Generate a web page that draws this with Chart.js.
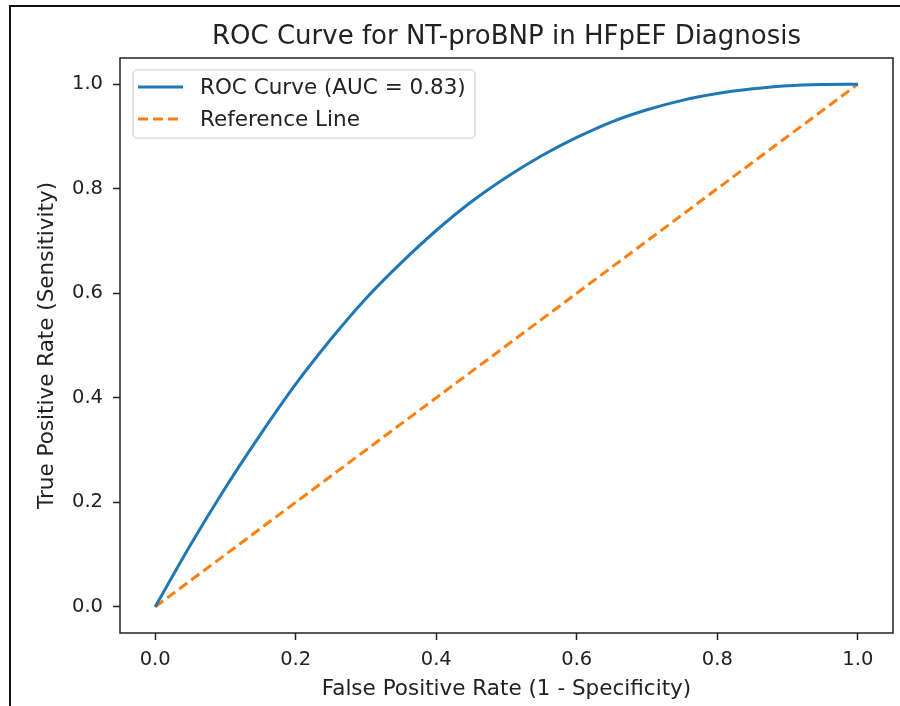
<!DOCTYPE html>
<html>
<head>
<meta charset="utf-8">
<title>ROC Curve for NT-proBNP in HFpEF Diagnosis</title>
<script src="https://cdn.jsdelivr.net/npm/chart.js@4.4.1/dist/chart.umd.min.js"></script>
<style>
    html, body { margin: 0; padding: 0; background: #fff; }
    #wrap { position: relative; width: 900px; height: 706px; overflow: hidden; }
    #frame {
        position: absolute; left: 9px; top: 5px; width: 900px; height: 720px;
        border-top: 2px solid #111; border-left: 2px solid #111;
        pointer-events: none;
    }
    canvas { position: absolute; left: 0; top: 0; }
</style>
</head>
<body>
<div id="wrap">
    <canvas id="rocChart" width="900" height="706"></canvas>
    <div id="frame"></div>
</div>
<script>
// ---- data ----
const fpr = [0, 0.05, 0.10, 0.15, 0.20, 0.25, 0.30, 0.35, 0.40, 0.45, 0.50,
             0.55, 0.60, 0.65, 0.70, 0.75, 0.80, 0.85, 0.90, 0.95, 1.0];
const tpr = [0, 0.118, 0.228, 0.33, 0.426, 0.512, 0.59, 0.658, 0.72, 0.775, 0.822,
             0.863, 0.898, 0.928, 0.951, 0.969, 0.982, 0.991, 0.997, 0.9994, 1.0];
const refX = [0, 1];
const refY = [0, 1];
const tickValues = [0, 0.2, 0.4, 0.6, 0.8, 1.0];

const chartTitle = 'ROC Curve for NT-proBNP in HFpEF Diagnosis';
const rocLabel = 'ROC Curve (AUC = 0.83)';
const refLabel = 'Reference Line';

const FONT = "'DejaVu Sans', sans-serif";
const TEXT = '#222';

// box around the plot area, like matplotlib spines
const boxPlugin = {
    id: 'axesBox',
    afterDatasetsDraw(chart) {
        const { ctx, chartArea: a } = chart;
        ctx.save();
        ctx.strokeStyle = '#222';
        ctx.lineWidth = 1.5;
        ctx.strokeRect(a.left, a.top, a.right - a.left, a.bottom - a.top);
        ctx.restore();
    }
};

// title centred over the plot area (not the whole canvas)
const titlePlugin = {
    id: 'axesTitle',
    afterDraw(chart) {
        const { ctx, chartArea: a } = chart;
        ctx.save();
        ctx.font = '26px ' + FONT;
        ctx.fillStyle = TEXT;
        ctx.textAlign = 'center';
        ctx.textBaseline = 'alphabetic';
        ctx.fillText(chartTitle, (a.left + a.right) / 2, 44);
        ctx.restore();
    }
};

// legend with frame in the upper left of the plot
const legendBox = {
    id: 'legendBox',
    afterDraw(chart) {
        const { ctx, chartArea: a } = chart;
        const x0 = a.left + 13, y0 = a.top + 12;
        const w = 342, h = 68;
        ctx.save();
        ctx.fillStyle = 'rgba(255,255,255,0.8)';
        ctx.strokeStyle = '#d0d0d0';
        ctx.lineWidth = 1.2;
        ctx.beginPath();
        ctx.roundRect(x0, y0, w, h, 4);
        ctx.fill();
        ctx.stroke();

        ctx.font = '21.5px ' + FONT;
        ctx.textBaseline = 'middle';
        chart.data.datasets.forEach((ds, i) => {
            const y = y0 + 17 + i * 32;
            ctx.strokeStyle = ds.borderColor;
            ctx.lineWidth = ds.borderWidth;
            ctx.setLineDash(ds.borderDash || []);
            ctx.beginPath();
            ctx.moveTo(x0 + 5, y);
            ctx.lineTo(x0 + 50, y);
            ctx.stroke();
            ctx.setLineDash([]);
            ctx.fillStyle = TEXT;
            ctx.fillText(ds.label, x0 + 67, y + 1);
        });
        ctx.restore();
    }
};

function fixedTicks(axis) {
    axis.ticks = tickValues.map(v => ({ value: v }));
}

const ctx = document.getElementById('rocChart');
new Chart(ctx, {
    type: 'line',
    data: {
        datasets: [{
            label: rocLabel,
            data: fpr.map((x, i) => ({ x: x, y: tpr[i] })),
            borderColor: '#1f77b4',
            borderWidth: 3,
            pointRadius: 0,
            cubicInterpolationMode: 'monotone',
            fill: false
        }, {
            label: refLabel,
            data: refX.map((x, i) => ({ x: x, y: refY[i] })),
            borderColor: '#ff7f0e',
            borderWidth: 3,
            borderDash: [10, 5],
            pointRadius: 0,
            fill: false
        }]
    },
    options: {
        responsive: false,
        animation: false,
        devicePixelRatio: 1,
        layout: { padding: { left: 0, right: 7, top: 58, bottom: 0 } },
        plugins: {
            legend: { display: false },
            tooltip: { enabled: false },
            title: { display: false }
        },
        scales: {
            x: {
                type: 'linear',
                min: -0.05,
                max: 1.05,
                afterBuildTicks: fixedTicks,
                afterFit(scale) { scale.height = 73; },
                grid: { drawOnChartArea: false, drawTicks: true, tickLength: 7, tickWidth: 1.5, color: '#222' },
                border: { display: false },
                ticks: {
                    color: TEXT,
                    padding: 8,
                    maxRotation: 0,
                    font: { family: FONT, size: 19.5 },
                    callback: v => v.toFixed(1)
                },
                title: {
                    display: true,
                    text: 'False Positive Rate (1 - Specificity)',
                    color: TEXT,
                    font: { family: FONT, size: 21.5 },
                    padding: { top: 0, bottom: 4 }
                }
            },
            y: {
                type: 'linear',
                min: -0.05,
                max: 1.05,
                afterBuildTicks: fixedTicks,
                afterFit(scale) { scale.width = 120; },
                grid: { drawOnChartArea: false, drawTicks: true, tickLength: 7, tickWidth: 1.5, color: '#222' },
                border: { display: false },
                ticks: {
                    color: TEXT,
                    padding: 10,
                    font: { family: FONT, size: 19.5 },
                    callback: v => v.toFixed(1)
                },
                title: {
                    display: true,
                    text: 'True Positive Rate (Sensitivity)',
                    color: TEXT,
                    font: { family: FONT, size: 21.5 },
                    padding: { top: 35, bottom: 0 }
                }
            }
        }
    },
    plugins: [boxPlugin, titlePlugin, legendBox]
});
</script>
</body>
</html>
